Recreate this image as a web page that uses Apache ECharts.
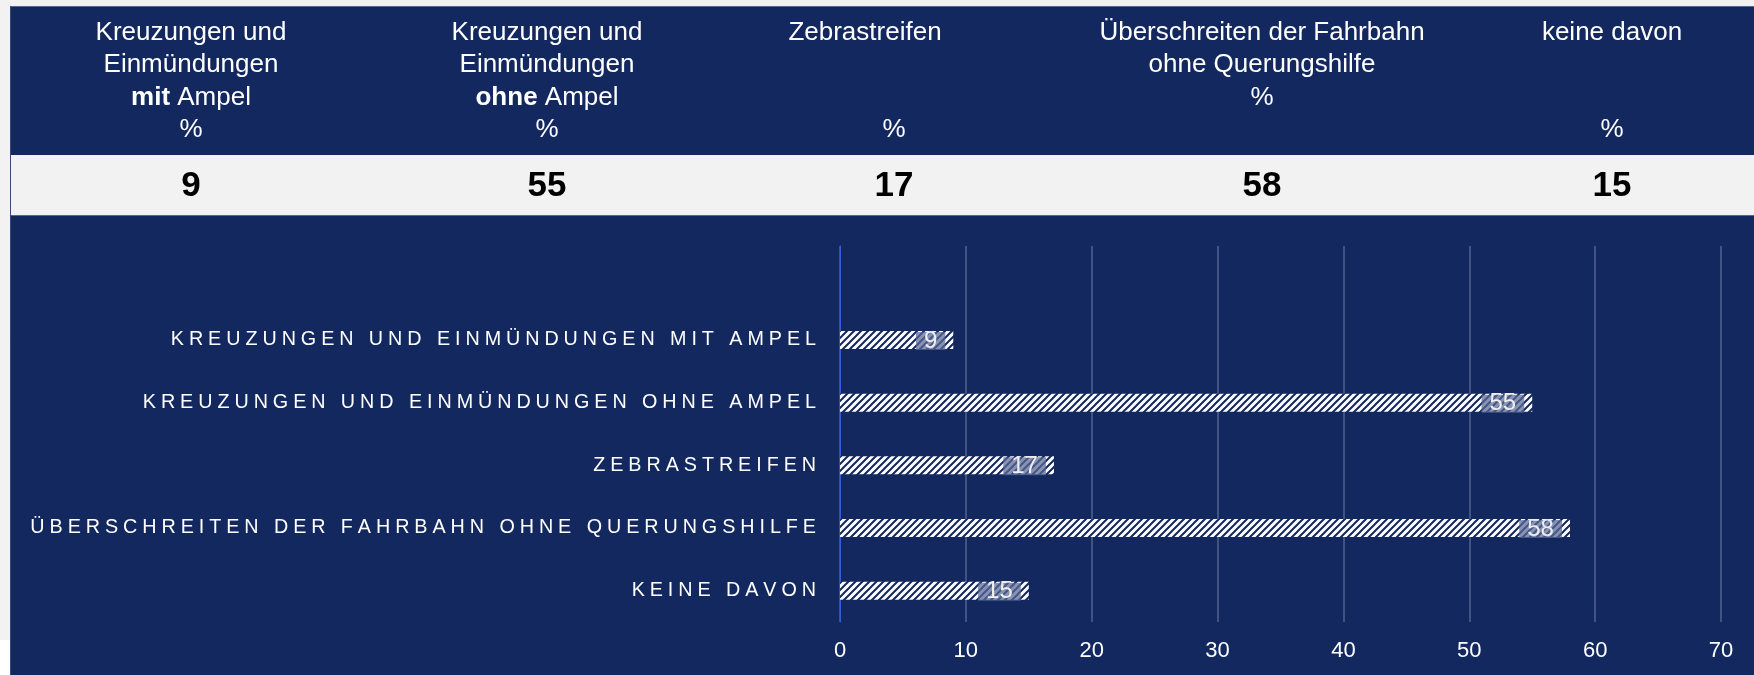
<!DOCTYPE html>
<html>
<head>
<meta charset="utf-8">
<script src="https://cdn.jsdelivr.net/npm/echarts@6/dist/echarts.min.js"></script>
<style>
    html, body { margin: 0; padding: 0; background: #f2f2f2; }
    #corner { position: absolute; left: 0; top: 640px; width: 10px; height: 35px; background: #fff; }
    #chart-container { position: absolute; left: 10px; top: 6px; width: 1744px; height: 669px; }
</style>
</head>
<body>
<div id="corner"></div>
<div id="chart-container"></div>
<script>
// data
var categories = [
    'KREUZUNGEN UND EINMÜNDUNGEN MIT AMPEL',
    'KREUZUNGEN UND EINMÜNDUNGEN OHNE AMPEL',
    'ZEBRASTREIFEN',
    'ÜBERSCHREITEN DER FAHRBAHN OHNE QUERUNGSHILFE',
    'KEINE DAVON'
];
var shares = [9, 55, 17, 58, 15];
var headerLines = [
    ['Kreuzungen und', 'Einmündungen', '{b|mit} Ampel', '%'],
    ['Kreuzungen und', 'Einmündungen', '{b|ohne} Ampel', '%'],
    ['Zebrastreifen', '', '', '%'],
    ['Überschreiten der Fahrbahn', 'ohne Querungshilfe', '%', ''],
    ['keine davon', '', '', '%']
];
var headerValues = ['9', '55', '17', '58', '15'];
var xTicks = { min: 0, max: 70, interval: 10 };

var NAVY = '#13285f';
var FONT = '"Liberation Sans", Arial, sans-serif';

function makeHatch() {
    var s = 7;
    var c = document.createElement('canvas');
    c.width = s;
    c.height = s;
    var ctx = c.getContext('2d');
    ctx.fillStyle = '#fff';
    ctx.fillRect(0, 0, s, s);
    ctx.strokeStyle = NAVY;
    ctx.lineWidth = 2;
    ctx.beginPath();
    ctx.moveTo(-1, s + 1); ctx.lineTo(s + 1, -1);
    ctx.moveTo(-1, 1); ctx.lineTo(1, -1);
    ctx.moveTo(s - 1, s + 1); ctx.lineTo(s + 1, s - 1);
    ctx.stroke();
    return c;
}

// header table drawn as graphic text
var colX = [181, 537, 884, 1252, 1602];
var titleShift = [0, 0, -29, 0, 0];
var lineY = [27, 59, 91.5, 124];
var graphics = [
    { type: 'rect', shape: { x: 0, y: 149, width: 1744, height: 60 }, style: { fill: '#f2f2f2' } },
    { type: 'line', shape: { x1: 0, y1: 0.5, x2: 1744, y2: 0.5 }, style: { stroke: '#56668f', lineWidth: 1 } },
    { type: 'line', shape: { x1: 0, y1: 209.5, x2: 1744, y2: 209.5 }, style: { stroke: '#56668f', lineWidth: 1 } },
    { type: 'line', shape: { x1: 0.5, y1: 0, x2: 0.5, y2: 669 }, style: { stroke: '#3a4a78', lineWidth: 1 } }
];
for (var i = 0; i < headerLines.length; i++) {
    for (var j = 0; j < headerLines[i].length; j++) {
        if (!headerLines[i][j]) continue;
        graphics.push({
            type: 'text',
            x: colX[i] + (j === 0 ? titleShift[i] : 0),
            y: lineY[j],
            style: {
                text: headerLines[i][j],
                align: 'center',
                verticalAlign: 'middle',
                fill: '#fff',
                fontSize: 26,
                fontFamily: FONT,
                rich: { b: { fontWeight: 'bold', fontSize: 26, fontFamily: FONT, fill: '#fff' } }
            }
        });
    }
    graphics.push({
        type: 'text',
        x: colX[i],
        y: 180,
        style: {
            text: headerValues[i],
            align: 'center',
            verticalAlign: 'middle',
            fill: '#000',
            fontSize: 35,
            fontWeight: 'bold',
            fontFamily: FONT
        }
    });
}

var chartDom = document.getElementById('chart-container');
var myChart = echarts.init(chartDom);

var option = {
    backgroundColor: NAVY,
    animation: false,
    textStyle: { fontFamily: FONT },
    graphic: graphics,
    grid: { left: 830, right: 33, top: 240, bottom: 53 },
    xAxis: {
        type: 'value',
        min: xTicks.min,
        max: xTicks.max,
        interval: xTicks.interval,
        axisLine: { show: false },
        axisTick: { show: false },
        splitLine: { lineStyle: { color: '#52628c', width: 1.5 } },
        axisLabel: { color: '#fff', fontSize: 22, margin: 18 }
    },
    yAxis: {
        type: 'category',
        inverse: true,
        data: [''].concat(categories),
        axisLine: { show: true, lineStyle: { color: '#2f5fd8', width: 1 } },
        axisTick: { show: false },
        splitLine: { show: false },
        axisLabel: {
            color: '#fff',
            fontSize: 19.75,
            margin: 24,
            // wide letter spacing
            formatter: function (v) { return v.split('').join('\u2005'); }
        }
    },
    series: [
        {
            type: 'bar',
            data: ['-'].concat(shares),
            barWidth: 18,
            itemStyle: { color: { image: makeHatch(), repeat: 'repeat' } },
            label: {
                show: true,
                position: 'insideRight',
                distance: 8,
                offset: [0, 1],
                color: '#eeeeee',
                fontSize: 24,
                lineHeight: 18,
                padding: [0, 8],
                backgroundColor: 'rgba(90,105,150,0.72)'
            }
        }
    ]
};

myChart.setOption(option);
</script>
</body>
</html>
